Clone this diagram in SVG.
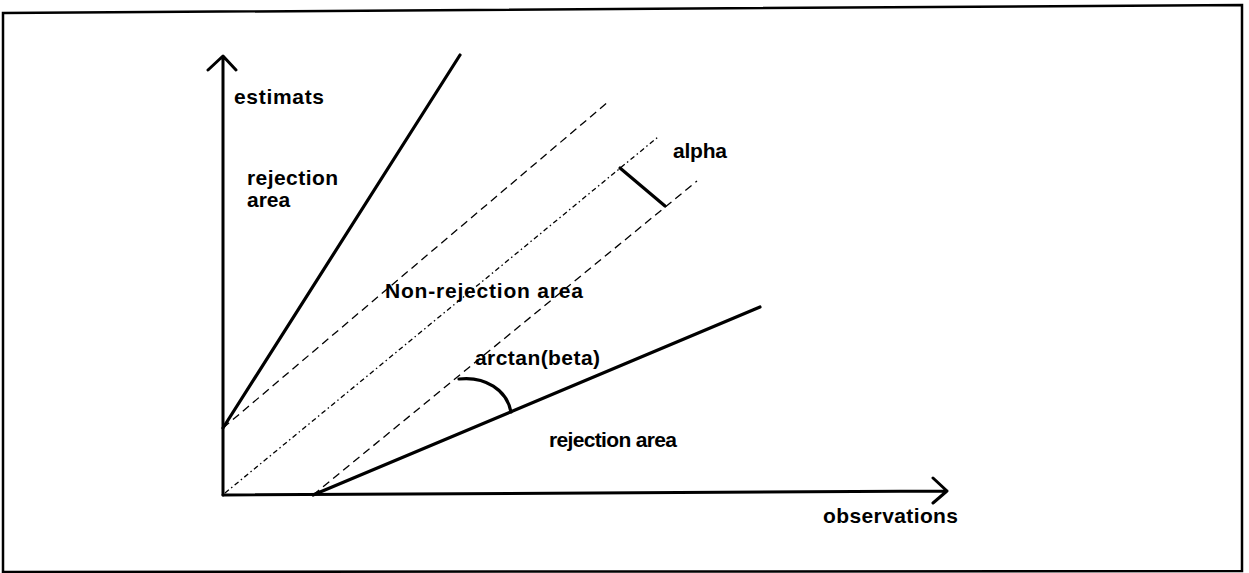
<svg xmlns="http://www.w3.org/2000/svg" width="1249" height="573" viewBox="0 0 1249 573">
<style>
.t{font-family:"Liberation Sans",Arial,sans-serif;font-size:21px;font-weight:bold;fill:#000}
.ax{stroke:#000;stroke-width:3;fill:none;stroke-linecap:round;stroke-linejoin:round}
.sol{stroke:#000;stroke-width:3.2;fill:none;stroke-linecap:round}
.dash{stroke:#000;stroke-width:1.3;fill:none;stroke-dasharray:8 5}
.dd{stroke:#000;stroke-width:1.3;fill:none;stroke-dasharray:5 3 1.5 3}
</style>
<rect width="1249" height="573" fill="#fff"/>
<g id="frame"><polygon points="3,13 1242,5 1242,571 3,572" fill="none" stroke="#000" stroke-width="2.5"/></g>
<g id="connectors">
<path class="ax" d="M223,495 L223,57 M208,70 L223,56 L236,70"/>
<path class="ax" d="M223,495 L947,491 M933,478 L947,491 L933,503"/>
<line class="sol" x1="223" y1="428" x2="460" y2="55"/>
<line class="sol" x1="313" y1="495" x2="760" y2="307"/>
<line class="dash" x1="223" y1="428" x2="608" y2="102"/>
<line class="dd" x1="225" y1="493" x2="658" y2="137"/>
<line class="dash" x1="313" y1="495" x2="697" y2="181"/>
<line class="sol" x1="620" y1="168" x2="665" y2="206" stroke-width="2.8"/>
<path class="sol" d="M459,379 C485,376 507,390 511,412" stroke-width="2.6"/>
</g>
<g id="labels">
<text class="t" x="234" y="104" textLength="90" lengthAdjust="spacing">estimats</text>
<text class="t" x="247" y="185" textLength="91" lengthAdjust="spacing">rejection</text>
<text class="t" x="247" y="207">area</text>
<text class="t" x="385" y="298" textLength="198" lengthAdjust="spacing">Non-rejection area</text>
<text class="t" x="673" y="158" textLength="54" lengthAdjust="spacing">alpha</text>
<text class="t" x="475" y="365" textLength="125" lengthAdjust="spacing">arctan(beta)</text>
<text class="t" x="549" y="447" textLength="128" lengthAdjust="spacing">rejection area</text>
<text class="t" x="823" y="523" textLength="135" lengthAdjust="spacing">observations</text>
</g>
</svg>
